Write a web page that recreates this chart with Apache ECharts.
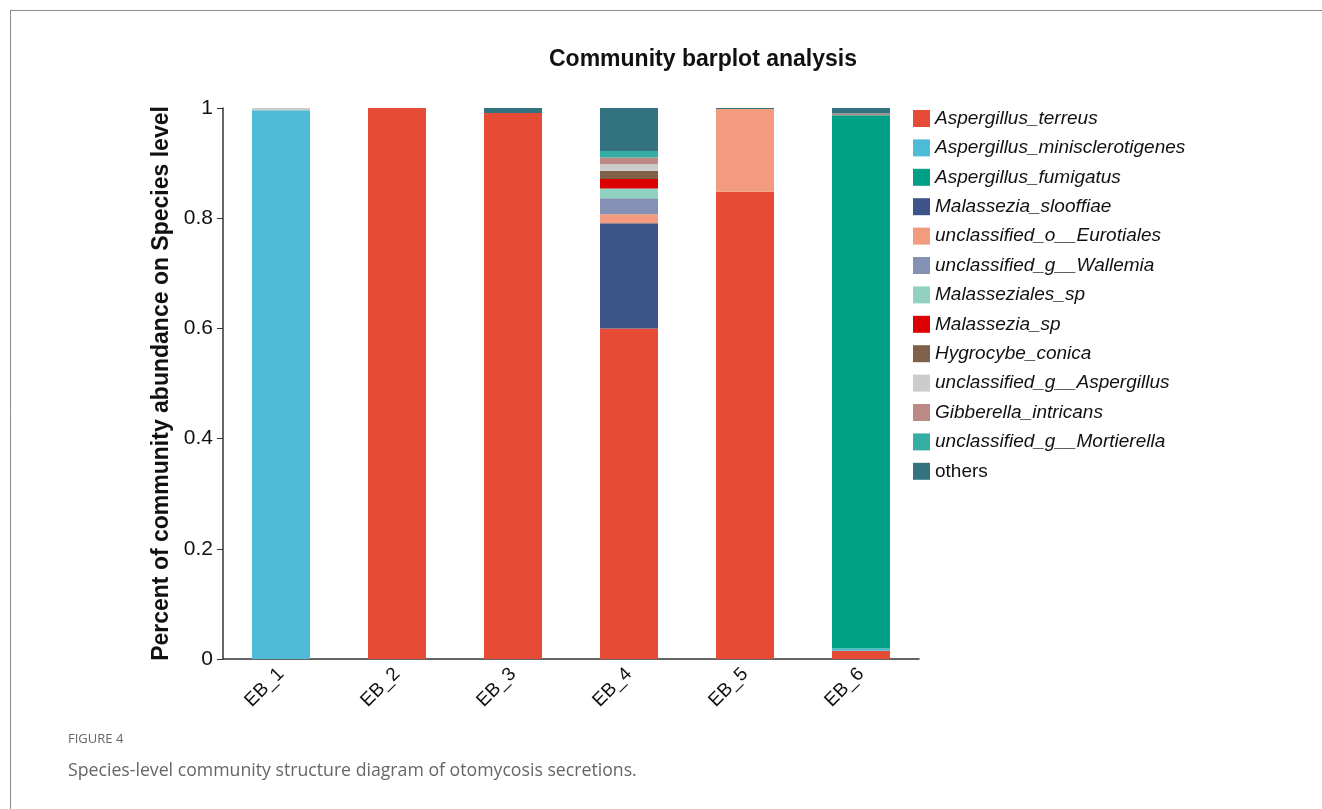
<!DOCTYPE html>
<html>
<head>
<meta charset="utf-8">
<title>Community barplot analysis</title>
<script src="https://cdn.jsdelivr.net/npm/echarts@6/dist/echarts.min.js"></script>
<style>
  html, body { margin: 0; padding: 0; background: #fff; }
  #main { width: 1322px; height: 809px; }
</style>
</head>
<body>
<div id="main"></div>
<script>
// samples
var samples = ['EB_1', 'EB_2', 'EB_3', 'EB_4', 'EB_5', 'EB_6'];

// species (legend order) and colours
var species = [
  'Aspergillus_terreus', 'Aspergillus_minisclerotigenes', 'Aspergillus_fumigatus',
  'Malassezia_slooffiae', 'unclassified_o__Eurotiales', 'unclassified_g__Wallemia',
  'Malasseziales_sp', 'Malassezia_sp', 'Hygrocybe_conica', 'unclassified_g__Aspergillus',
  'Gibberella_intricans', 'unclassified_g__Mortierella', 'others'
];
var colors = [
  '#E64B35', '#4DBBD5', '#00A087', '#3C5488', '#F39B7F', '#8491B4',
  '#91D1C2', '#DC0000', '#7E6148', '#CCCCCC', '#BC8A84', '#36ADA4', '#32737F'
];

// abundance per species, one value per sample (EB_1..EB_6)
var terreus        = [0,     1.0, 0.991, 0.600, 0.848, 0.015];
var minisclerot    = [0.996, 0,   0,     0,     0,     0.004];
var fumigatus      = [0,     0,   0,     0,     0,     0.968];
var slooffiae      = [0,     0,   0,     0.191, 0,     0];
var eurotiales     = [0,     0,   0,     0.016, 0.150, 0];
var wallemia       = [0,     0,   0,     0.029, 0,     0];
var malasseziales  = [0,     0,   0,     0.018, 0,     0];
var malasseziaSp   = [0,     0,   0,     0.017, 0,     0];
var hygrocybe      = [0,     0,   0,     0.015, 0,     0];
var unclAspergillus= [0.004, 0,   0,     0.012, 0,     0];
var gibberella     = [0,     0,   0,     0.012, 0,     0.003];
var mortierella    = [0,     0,   0,     0.012, 0,     0];
var others         = [0,     0,   0.009, 0.078, 0.002, 0.010];

var values = [terreus, minisclerot, fumigatus, slooffiae, eurotiales, wallemia,
  malasseziales, malasseziaSp, hygrocybe, unclAspergillus, gibberella, mortierella, others];

var yTicks = [0, 0.2, 0.4, 0.6, 0.8, 1];

var chart = echarts.init(document.getElementById('main'));

var series = species.map(function (name, i) {
  return {
    name: name,
    type: 'bar',
    stack: 'total',
    barWidth: '50%',
    data: values[i],
    itemStyle: { color: colors[i] }
  };
});

chart.setOption({
  animation: false,
  title: {
    text: 'Community barplot analysis',
    left: 698,
    top: 43,
    textAlign: 'center',
    textStyle: {
      fontFamily: 'Liberation Sans, Arial, sans-serif',
      fontSize: 23,
      fontWeight: 'bold',
      color: '#111'
    }
  },
  legend: {
    orient: 'vertical',
    left: 908,
    top: 104,
    itemWidth: 17,
    itemHeight: 17,
    itemGap: 10.4,
    icon: 'rect',
    data: species.map(function (n) {
      return n === 'others' ? { name: n, textStyle: { fontStyle: 'normal' } } : n;
    }),
    textStyle: {
      fontFamily: 'Liberation Sans, Arial, sans-serif',
      fontSize: 19,
      fontStyle: 'italic',
      color: '#111'
    }
  },
  grid: {
    left: 223,
    right: 403,
    top: 108,
    bottom: 150
  },
  xAxis: {
    type: 'category',
    data: samples,
    axisLine: { lineStyle: { color: '#333', width: 1.5 } },
    axisTick: { alignWithLabel: true, length: 6, lineStyle: { color: '#333' } },
    axisLabel: {
      rotate: 45,
      margin: 12,
      fontFamily: 'Liberation Sans, Arial, sans-serif',
      fontSize: 19,
      color: '#111'
    }
  },
  yAxis: {
    type: 'value',
    min: 0,
    max: 1,
    interval: 0.2,
    name: 'Percent of community abundance on Species level',
    nameLocation: 'middle',
    nameGap: 43,
    nameTextStyle: {
      fontFamily: 'Liberation Sans, Arial, sans-serif',
      fontSize: 23,
      fontWeight: 'bold',
      color: '#111'
    },
    axisLine: { show: true, lineStyle: { color: '#333', width: 1.5 } },
    axisTick: { show: true, length: 6, lineStyle: { color: '#333' } },
    splitLine: { show: false },
    axisLabel: {
      margin: 10,
      fontFamily: 'Liberation Sans, Arial, sans-serif',
      fontSize: 21,
      color: '#111',
      formatter: function (v) {
        return yTicks.indexOf(+v.toFixed(1)) >= 0 ? String(+v.toFixed(1)) : '';
      }
    }
  },
  graphic: [
    { type: 'line', shape: { x1: 10, y1: 10.5, x2: 1322, y2: 10.5 },
      style: { stroke: '#8a8a8a', lineWidth: 1 } },
    { type: 'line', shape: { x1: 10.5, y1: 10, x2: 10.5, y2: 809 },
      style: { stroke: '#8a8a8a', lineWidth: 1 } },
    { type: 'text', left: 68, top: 733,
      style: { text: 'FIGURE 4', fill: '#666', font: '13px "Open Sans", sans-serif' } },
    { type: 'text', left: 68, top: 762,
      style: { text: 'Species-level community structure diagram of otomycosis secretions.',
        fill: '#666', font: '17.7px "Open Sans", sans-serif' } }
  ],
  series: series
});
</script>
</body>
</html>
